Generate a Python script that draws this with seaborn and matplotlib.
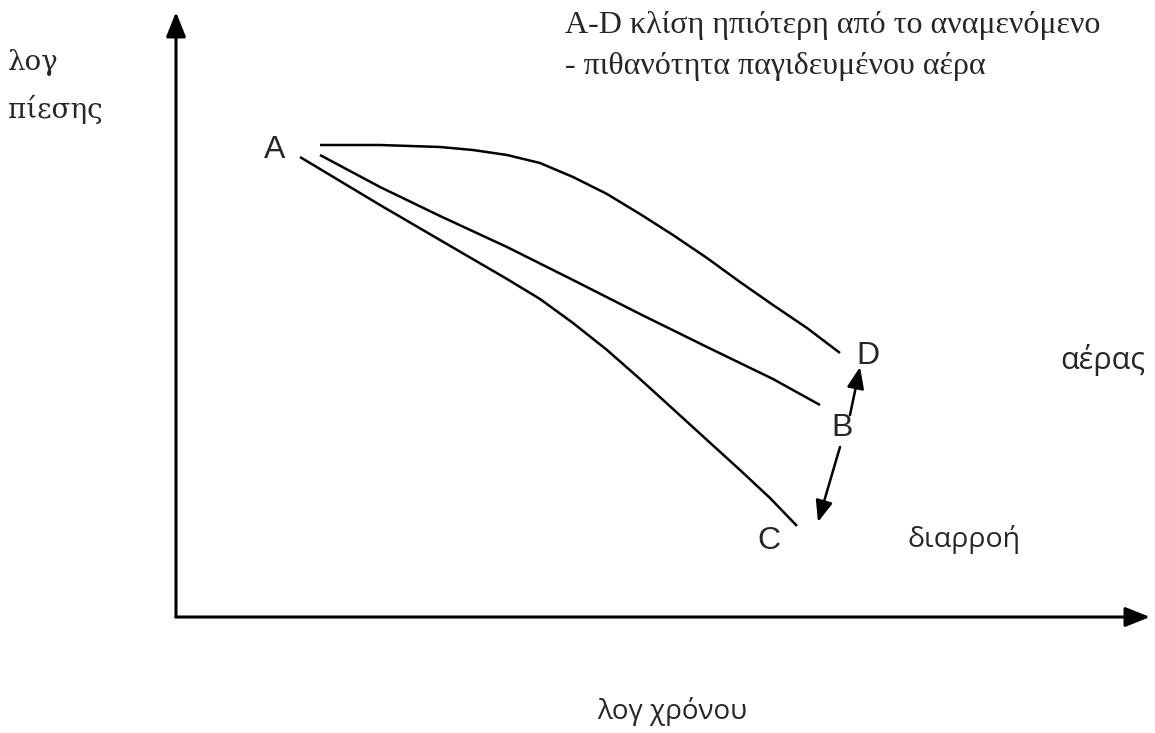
import matplotlib
matplotlib.use("Agg")
import matplotlib.pyplot as plt
import pandas as pd
import seaborn as sns

# schematic data: x = log time, y = log pressure (arbitrary units)
curve_ad_x = [1.44, 2.04, 2.64, 2.97, 3.31, 3.64, 3.97, 4.31, 4.64, 4.97, 5.31, 5.64, 5.97, 6.31, 6.64]
curve_ad_y = [4.72, 4.72, 4.70, 4.67, 4.62, 4.54, 4.40, 4.23, 4.03, 3.82, 3.59, 3.35, 3.12, 2.89, 2.64]

curve_ab_x = [1.44, 2.04, 2.64, 3.31, 3.97, 4.64, 5.31, 5.97, 6.44]
curve_ab_y = [4.62, 4.30, 4.01, 3.70, 3.37, 3.03, 2.70, 2.38, 2.12]

curve_ac_x = [1.24, 2.04, 2.64, 3.31, 3.64, 3.97, 4.31, 4.64, 4.97, 5.31, 5.64, 5.94, 6.21]
curve_ac_y = [4.60, 4.12, 3.77, 3.38, 3.18, 2.94, 2.67, 2.38, 2.08, 1.77, 1.47, 1.19, 0.91]

point_labels = ["A", "D", "B", "C"]
point_x = [0.99, 6.92, 6.66, 5.93]
point_y = [4.67, 2.61, 1.89, 0.76]

df = pd.concat([
    pd.DataFrame({"x": curve_ad_x, "y": curve_ad_y, "curve": "AD"}),
    pd.DataFrame({"x": curve_ab_x, "y": curve_ab_y, "curve": "AB"}),
    pd.DataFrame({"x": curve_ac_x, "y": curve_ac_y, "curve": "AC"}),
])

sns.set_theme(style="white")

fig = plt.figure(figsize=(11.55, 7.33), dpi=100)
ax = fig.add_axes([0, 0, 1, 1])

sns.lineplot(data=df, x="x", y="y", units="curve", estimator=None, sort=False,
             color="black", linewidth=1.8, ax=ax, legend=False,
             solid_joinstyle="round", solid_capstyle="butt")

ax.set_xlim(-1.76, 9.79)
ax.set_ylim(-1.16, 6.17)
ax.axis("off")

# axes with arrow heads
arrow_kw = dict(arrowstyle="-|>,head_length=1.0,head_width=0.4", color="black",
                lw=2.2, shrinkA=0, shrinkB=0, mutation_scale=15)
ax.annotate("", xy=(0, 6.05), xytext=(0, 0), arrowprops=arrow_kw)
ax.annotate("", xy=(9.74, 0), xytext=(0, 0), arrowprops=arrow_kw)

# double arrow between D and C, broken by label B
small_kw = dict(arrowstyle="-|>,head_length=1.0,head_width=0.4", color="black",
                lw=1.8, shrinkA=0, shrinkB=0, mutation_scale=13)
ax.annotate("", xy=(6.84, 2.50), xytext=(6.74, 2.02), arrowprops=small_kw)
ax.annotate("", xy=(6.42, 0.95), xytext=(6.64, 1.70), arrowprops=small_kw)

for lab, px, py in zip(point_labels, point_x, point_y):
    ax.text(px, py, lab, fontsize=23, family="Liberation Sans",
            ha="center", va="center")

ax.text(8.84, 2.57, "αέρας", fontsize=22, family="Open Sans", ha="left", va="center")
ax.text(7.31, 0.77, "διαρροή", fontsize=20.5, family="Open Sans", ha="left", va="center")
ax.text(4.96, -0.95, "λογ χρόνου", fontsize=20, family="Open Sans", ha="center", va="center")

ax.text(-1.68, 5.68, "λογ\nπίεσης", fontsize=20, family="DejaVu Serif",
        ha="left", va="top", linespacing=1.8)

ax.text(3.89, 5.84, "A-D κλίση ηπιότερη από το αναμενόμενο", fontsize=23,
        family="Liberation Serif", ha="left", va="baseline")
ax.text(3.89, 5.43, "- πιθανότητα παγιδευμένου αέρα", fontsize=23,
        family="Liberation Serif", ha="left", va="baseline")

fig.savefig("out.png", dpi=100)
